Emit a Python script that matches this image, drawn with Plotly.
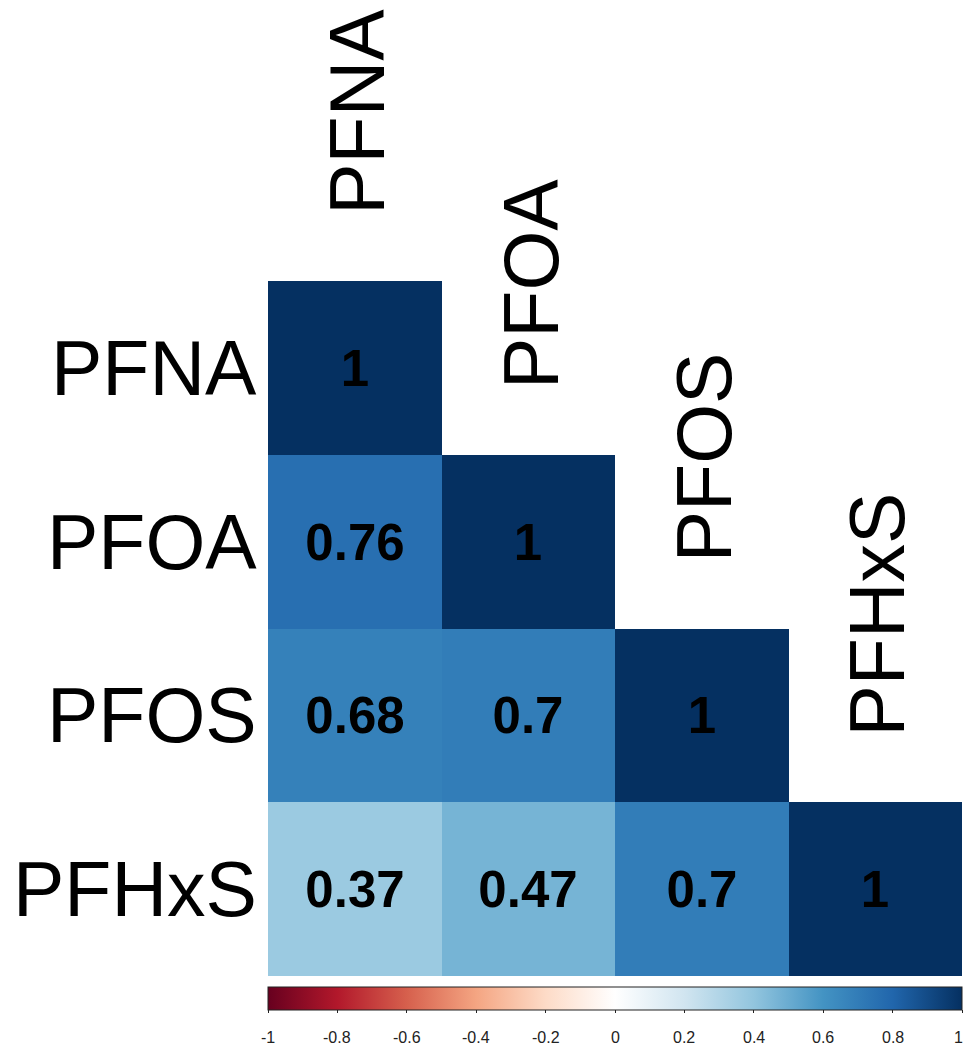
import plotly.graph_objects as go
import numpy as np

labels = ["PFNA", "PFOA", "PFOS", "PFHxS"]
corr = [
    [1.00, None, None, None],
    [0.76, 1.00, None, None],
    [0.68, 0.70, 1.00, None],
    [0.37, 0.47, 0.70, 1.00],
]
cell_text = [
    ["1", "", "", ""],
    ["0.76", "1", "", ""],
    ["0.68", "0.7", "1", ""],
    ["0.37", "0.47", "0.7", "1"],
]
cbar_ticks = [-1, -0.8, -0.6, -0.4, -0.2, 0, 0.2, 0.4, 0.6, 0.8, 1]
cbar_ticktext = ["-1", "-0.8", "-0.6", "-0.4", "-0.2", "0", "0.2", "0.4", "0.6", "0.8", "1"]

rdbu = ["#67001F", "#B2182B", "#D6604D", "#F4A582", "#FDDBC7", "#FFFFFF",
        "#D1E5F0", "#92C5DE", "#4393C3", "#2166AC", "#053061"]
colorscale = [[i / (len(rdbu) - 1), c] for i, c in enumerate(rdbu)]

z = np.array([[np.nan if v is None else v for v in row] for row in corr], dtype=float)
idx = list(range(len(labels)))
ZMIN, ZMAX = -1, 1

W, H = 965, 1046
L, R, T, B = 268, 3, 281, 70
plot_h = H - T - B
FONT = "Liberation Sans, Arial"

fig = go.Figure()
fig.add_trace(go.Heatmap(
    z=z, x=idx, y=idx,
    text=cell_text, texttemplate="%{text}",
    textfont=dict(family=FONT, size=51, color="black", weight="bold"),
    colorscale=colorscale, zmin=ZMIN, zmax=ZMAX,
    hoverongaps=False, xgap=0, ygap=0,
    colorbar=dict(
        orientation="h", x=0, xanchor="left", xref="paper",
        y=-11 / plot_h, yanchor="top",
        len=W - L - R, lenmode="pixels",
        thickness=23, thicknessmode="pixels",
        xpad=0, ypad=0,
        outlinewidth=1, outlinecolor="#222222",
        tickmode="array", tickvals=cbar_ticks, ticktext=cbar_ticktext,
        ticks="outside", ticklen=3, tickcolor="#222222", tickwidth=1,
        showticklabels=False,
    ),
))

# colorbar tick labels (placed along the colorbar's linear scale)
n_ticks = len(cbar_ticks)
for k, (v, t) in enumerate(zip(cbar_ticks, cbar_ticktext)):
    last = k == n_ticks - 1
    fig.add_annotation(
        x=(v - ZMIN) / (ZMAX - ZMIN), y=-61 / plot_h, xref="paper", yref="paper",
        text=t, showarrow=False,
        xanchor="right" if last else "center", xshift=3 if last else 0,
        yanchor="middle",
        font=dict(family=FONT, size=16, color="#222222"),
    )

# column labels (rotated, above each diagonal cell)
for j, lab in enumerate(labels):
    fig.add_annotation(
        x=j, y=j - 0.5, xref="x", yref="y",
        text=lab, textangle=-90, showarrow=False,
        xanchor="center", yanchor="bottom", yshift=64, xshift=2,
        font=dict(family=FONT, size=77, color="black"),
    )
# row labels
for j, lab in enumerate(labels):
    fig.add_annotation(
        x=0, y=j, xref="paper", yref="y",
        text=lab, showarrow=False,
        xanchor="right", yanchor="middle", xshift=-9,
        font=dict(family=FONT, size=77, color="black"),
    )

fig.update_xaxes(range=[-0.5, 3.5], showticklabels=False, showgrid=False,
                 zeroline=False, showline=False, ticks="")
fig.update_yaxes(range=[3.5, -0.5], showticklabels=False, showgrid=False,
                 zeroline=False, showline=False, ticks="")

fig.update_layout(
    width=W, height=H,
    margin=dict(l=L, r=R, t=T, b=B, autoexpand=False),
    paper_bgcolor="white", plot_bgcolor="white",
)

fig.write_html("out.html", config={"displayModeBar": False},
               post_script="document.body.style.margin='0px';")
